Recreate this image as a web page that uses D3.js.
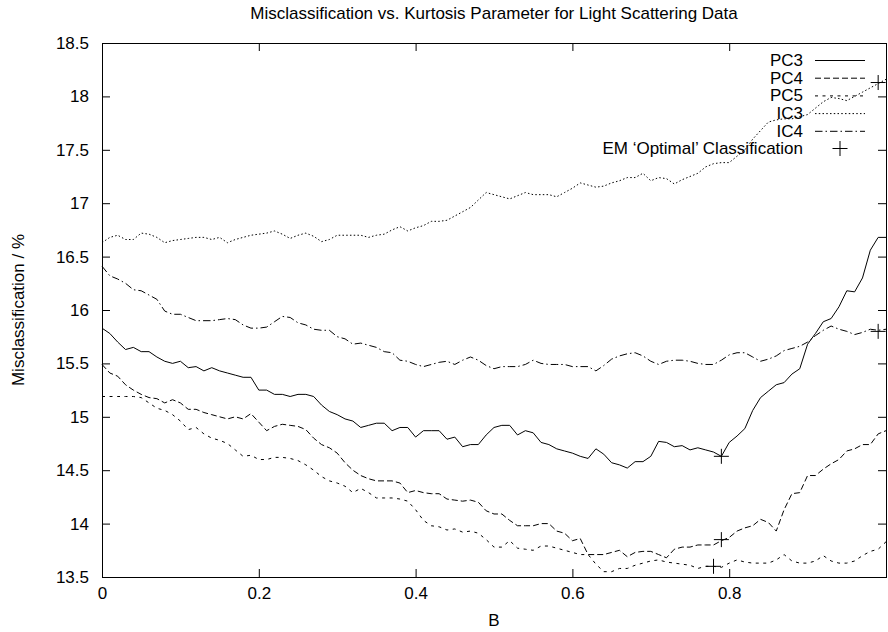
<!DOCTYPE html>
<html>
<head>
<meta charset="utf-8">
<script src="https://cdn.jsdelivr.net/npm/d3@7"></script>
<style>
body { margin: 0; background: #fff; }
svg { display: block; font-family: "Liberation Sans", Arial, sans-serif; }
</style>
</head>
<body>
<svg></svg>
<script>
const svgWidth = 888;
const svgHeight = 632;
const plotLeft = 102;
const plotRight = 886;
const plotTop = 43;
const plotBottom = 577;
const fontSize = 17;

// kurtosis parameter B
const bValues = [
	0.00, 0.01, 0.02, 0.03, 0.04, 0.05, 0.06, 0.07, 0.08, 0.09,
	0.10, 0.11, 0.12, 0.13, 0.14, 0.15, 0.16, 0.17, 0.18, 0.19,
	0.20, 0.21, 0.22, 0.23, 0.24, 0.25, 0.26, 0.27, 0.28, 0.29,
	0.30, 0.31, 0.32, 0.33, 0.34, 0.35, 0.36, 0.37, 0.38, 0.39,
	0.40, 0.41, 0.42, 0.43, 0.44, 0.45, 0.46, 0.47, 0.48, 0.49,
	0.50, 0.51, 0.52, 0.53, 0.54, 0.55, 0.56, 0.57, 0.58, 0.59,
	0.60, 0.61, 0.62, 0.63, 0.64, 0.65, 0.66, 0.67, 0.68, 0.69,
	0.70, 0.71, 0.72, 0.73, 0.74, 0.75, 0.76, 0.77, 0.78, 0.79,
	0.80, 0.81, 0.82, 0.83, 0.84, 0.85, 0.86, 0.87, 0.88, 0.89,
	0.90, 0.91, 0.92, 0.93, 0.94, 0.95, 0.96, 0.97, 0.98, 0.99, 1.00
];

const pc3 = [
	15.83, 15.78, 15.70, 15.63, 15.65, 15.61, 15.61, 15.56, 15.52, 15.50,
	15.52, 15.46, 15.47, 15.43, 15.46, 15.43, 15.41, 15.39, 15.37, 15.37,
	15.25, 15.25, 15.21, 15.21, 15.19, 15.21, 15.21, 15.19, 15.11, 15.05,
	15.02, 14.98, 14.96, 14.90, 14.92, 14.94, 14.94, 14.87, 14.90, 14.90,
	14.81, 14.87, 14.87, 14.87, 14.79, 14.81, 14.72, 14.74, 14.74, 14.83,
	14.90, 14.92, 14.92, 14.83, 14.87, 14.85, 14.76, 14.74, 14.70, 14.68,
	14.66, 14.63, 14.61, 14.70, 14.65, 14.57, 14.55, 14.52, 14.58, 14.58,
	14.63, 14.77, 14.76, 14.72, 14.73, 14.69, 14.71, 14.69, 14.67, 14.63,
	14.76, 14.82, 14.89, 15.06, 15.18, 15.24, 15.30, 15.32, 15.40, 15.45,
	15.68, 15.78, 15.89, 15.92, 16.03, 16.18, 16.17, 16.30, 16.56, 16.68, 16.68
];

const pc4 = [
	15.49, 15.41, 15.38, 15.30, 15.25, 15.21, 15.18, 15.17, 15.13, 15.16,
	15.13, 15.07, 15.07, 15.04, 15.02, 15.00, 14.98, 15.00, 14.98, 15.03,
	14.95, 14.87, 14.91, 14.93, 14.92, 14.91, 14.88, 14.80, 14.74, 14.71,
	14.66, 14.57, 14.50, 14.45, 14.42, 14.40, 14.40, 14.40, 14.38, 14.29,
	14.31, 14.29, 14.28, 14.28, 14.23, 14.22, 14.21, 14.22, 14.20, 14.12,
	14.09, 14.09, 14.03, 13.98, 13.98, 13.98, 14.00, 14.00, 13.93, 13.91,
	13.84, 13.86, 13.71, 13.71, 13.71, 13.73, 13.75, 13.69, 13.73, 13.74,
	13.74, 13.71, 13.68, 13.76, 13.78, 13.78, 13.80, 13.80, 13.80, 13.84,
	13.87, 13.93, 13.96, 13.98, 14.04, 14.01, 13.93, 14.13, 14.28, 14.29,
	14.45, 14.45, 14.51, 14.56, 14.60, 14.68, 14.70, 14.74, 14.74, 14.84, 14.87
];

const pc5 = [
	15.19, 15.19, 15.19, 15.19, 15.19, 15.18, 15.13, 15.08, 15.06, 15.02,
	14.96, 14.88, 14.90, 14.84, 14.80, 14.78, 14.75, 14.69, 14.63, 14.64,
	14.60, 14.60, 14.62, 14.62, 14.61, 14.59, 14.55, 14.50, 14.44, 14.40,
	14.38, 14.35, 14.29, 14.33, 14.29, 14.24, 14.24, 14.24, 14.23, 14.21,
	14.13, 14.03, 13.98, 13.97, 13.94, 13.95, 13.92, 13.93, 13.91, 13.85,
	13.78, 13.78, 13.84, 13.77, 13.76, 13.75, 13.79, 13.79, 13.77, 13.75,
	13.73, 13.71, 13.71, 13.62, 13.55, 13.55, 13.58, 13.58, 13.61, 13.63,
	13.65, 13.66, 13.64, 13.63, 13.62, 13.61, 13.58, 13.60, 13.60, 13.59,
	13.63, 13.66, 13.64, 13.63, 13.63, 13.63, 13.66, 13.71, 13.65, 13.63,
	13.63, 13.65, 13.70, 13.65, 13.63, 13.63, 13.65, 13.70, 13.74, 13.76, 13.83
];

const ic3 = [
	16.63, 16.68, 16.70, 16.66, 16.66, 16.72, 16.71, 16.68, 16.63, 16.65,
	16.66, 16.67, 16.68, 16.68, 16.66, 16.68, 16.63, 16.66, 16.68, 16.70,
	16.71, 16.72, 16.74, 16.71, 16.67, 16.70, 16.72, 16.69, 16.64, 16.66,
	16.70, 16.70, 16.70, 16.70, 16.68, 16.70, 16.71, 16.75, 16.78, 16.74,
	16.77, 16.79, 16.83, 16.83, 16.84, 16.88, 16.92, 16.96, 17.03, 17.10,
	17.08, 17.06, 17.04, 17.07, 17.10, 17.08, 17.08, 17.08, 17.06, 17.10,
	17.14, 17.19, 17.17, 17.15, 17.16, 17.19, 17.21, 17.24, 17.24, 17.28,
	17.21, 17.24, 17.23, 17.18, 17.22, 17.25, 17.28, 17.34, 17.37, 17.38,
	17.38, 17.44, 17.50, 17.60, 17.68, 17.76, 17.78, 17.79, 17.79, 17.81,
	17.83, 17.89, 17.95, 17.99, 17.98, 17.96, 18.00, 18.04, 18.08, 18.12, 18.16
];

const ic4 = [
	16.41, 16.32, 16.29, 16.25, 16.19, 16.18, 16.14, 16.10, 15.99, 15.96,
	15.96, 15.93, 15.90, 15.90, 15.90, 15.91, 15.92, 15.91, 15.86, 15.83,
	15.83, 15.84, 15.89, 15.94, 15.93, 15.88, 15.86, 15.82, 15.81, 15.81,
	15.75, 15.73, 15.68, 15.69, 15.67, 15.65, 15.61, 15.60, 15.53, 15.52,
	15.49, 15.47, 15.49, 15.51, 15.52, 15.49, 15.53, 15.56, 15.53, 15.48,
	15.45, 15.47, 15.47, 15.47, 15.49, 15.53, 15.50, 15.49, 15.49, 15.49,
	15.47, 15.47, 15.47, 15.43, 15.48, 15.54, 15.57, 15.59, 15.60, 15.57,
	15.52, 15.49, 15.52, 15.53, 15.53, 15.52, 15.50, 15.49, 15.49, 15.53,
	15.58, 15.60, 15.60, 15.56, 15.52, 15.54, 15.57, 15.62, 15.64, 15.66,
	15.70, 15.76, 15.81, 15.85, 15.82, 15.80, 15.77, 15.79, 15.82, 15.81, 15.82
];

// EM 'optimal' classification points
const emB = [0.79, 0.79, 0.78, 0.99, 0.99];
const emValues = [14.63, 13.85, 13.60, 18.13, 15.80];

const seriesNames = ["PC3", "PC4", "PC5", "IC3", "IC4"];
const seriesDashes = ["none", "6,3", "3,4.5", "1.5,2.25", "7.5,3,1.5,3"];
const seriesValues = [pc3, pc4, pc5, ic3, ic4];

const xTicks = [0, 0.2, 0.4, 0.6, 0.8];
const yTicks = [13.5, 14, 14.5, 15, 15.5, 16, 16.5, 17, 17.5, 18, 18.5];

const svg = d3.select("svg")
	.attr("width", svgWidth)
	.attr("height", svgHeight);

const xScale = d3.scaleLinear()
	.domain([0, 1])
	.range([plotLeft, plotRight]);

const yScale = d3.scaleLinear()
	.domain([13.5, 18.5])
	.range([plotBottom, plotTop]);

function styleAxis(g) {
	g.attr("font-family", null).attr("font-size", null);
	g.select(".domain").remove();
	g.selectAll("text").attr("font-size", fontSize).attr("fill", "#000");
	g.selectAll("line").attr("stroke", "#000");
}

// axes, ticks pointing inwards
svg.append("g")
	.attr("transform", `translate(0, ${plotBottom})`)
	.call(d3.axisBottom(xScale).tickValues(xTicks).tickFormat(d => String(d))
		.tickSizeInner(-8).tickSizeOuter(0).tickPadding(10))
	.call(styleAxis);

svg.append("g")
	.attr("transform", `translate(0, ${plotTop})`)
	.call(d3.axisTop(xScale).tickValues(xTicks.slice(1)).tickFormat("")
		.tickSizeInner(-8).tickSizeOuter(0))
	.call(styleAxis);

svg.append("g")
	.attr("transform", `translate(${plotLeft}, 0)`)
	.call(d3.axisLeft(yScale).tickValues(yTicks).tickFormat(d => String(d))
		.tickSizeInner(-8).tickSizeOuter(0).tickPadding(13))
	.call(styleAxis);

svg.append("g")
	.attr("transform", `translate(${plotRight}, 0)`)
	.call(d3.axisRight(yScale).tickValues(yTicks.slice(1, -1)).tickFormat("")
		.tickSizeInner(-8).tickSizeOuter(0))
	.call(styleAxis);

// plot frame
svg.append("rect")
	.attr("x", plotLeft + 0.5)
	.attr("y", plotTop + 0.5)
	.attr("width", plotRight - plotLeft)
	.attr("height", plotBottom - plotTop)
	.attr("fill", "none")
	.attr("stroke", "#000")
	.attr("stroke-width", 1);

// data lines
const line = d3.line()
	.x((d, i) => xScale(bValues[i]))
	.y(d => yScale(d));

svg.selectAll(".series")
	.data(seriesValues)
	.enter()
	.append("path")
	.classed("series", true)
	.attr("d", line)
	.attr("fill", "none")
	.attr("stroke", "#000")
	.attr("stroke-width", 1)
	.attr("stroke-dasharray", (d, i) => seriesDashes[i]);

// EM markers
const plus = "M-7.5,0H7.5M0,-7.5V7.5";
svg.selectAll(".em")
	.data(emValues)
	.enter()
	.append("path")
	.classed("em", true)
	.attr("d", plus)
	.attr("transform", (d, i) => `translate(${xScale(emB[i])}, ${yScale(d)})`)
	.attr("fill", "none")
	.attr("stroke", "#000")
	.attr("stroke-width", 1);

// legend
const legendX = 803;
const legendY = 60;
const legendStep = 17.7;

const legendRows = svg.selectAll(".legend")
	.data(seriesNames.concat(["EM \u2018Optimal\u2019 Classification"]))
	.enter()
	.append("g")
	.classed("legend", true)
	.attr("transform", (d, i) => `translate(0, ${legendY + i * legendStep})`);

legendRows.append("text")
	.text(d => d)
	.attr("x", legendX)
	.attr("y", 0)
	.attr("dy", "0.35em")
	.attr("font-size", fontSize)
	.attr("text-anchor", "end");

legendRows.filter((d, i) => i < seriesNames.length)
	.append("line")
	.attr("x1", 815)
	.attr("x2", 865)
	.attr("y1", 0.5)
	.attr("y2", 0.5)
	.attr("stroke", "#000")
	.attr("stroke-width", 1)
	.attr("stroke-dasharray", (d, i) => seriesDashes[i]);

legendRows.filter((d, i) => i === seriesNames.length)
	.append("path")
	.attr("d", plus)
	.attr("transform", "translate(840, 0)")
	.attr("fill", "none")
	.attr("stroke", "#000");

// Plot title
svg.append("text")
	.text("Misclassification vs. Kurtosis Parameter for Light Scattering Data")
	.attr("x", (plotLeft + plotRight) / 2)
	.attr("y", 19)
	.attr("font-size", fontSize)
	.attr("text-anchor", "middle");

// X axis label
svg.append("text")
	.text("B")
	.attr("x", (plotLeft + plotRight) / 2)
	.attr("y", 626)
	.attr("font-size", fontSize)
	.attr("text-anchor", "middle");

// Y axis label
svg.append("text")
	.text("Misclassification / %")
	.attr("transform", `translate(18, ${(plotTop + plotBottom) / 2}) rotate(-90)`)
	.attr("dy", "0.35em")
	.attr("font-size", fontSize)
	.attr("text-anchor", "middle");
</script>
</body>
</html>
